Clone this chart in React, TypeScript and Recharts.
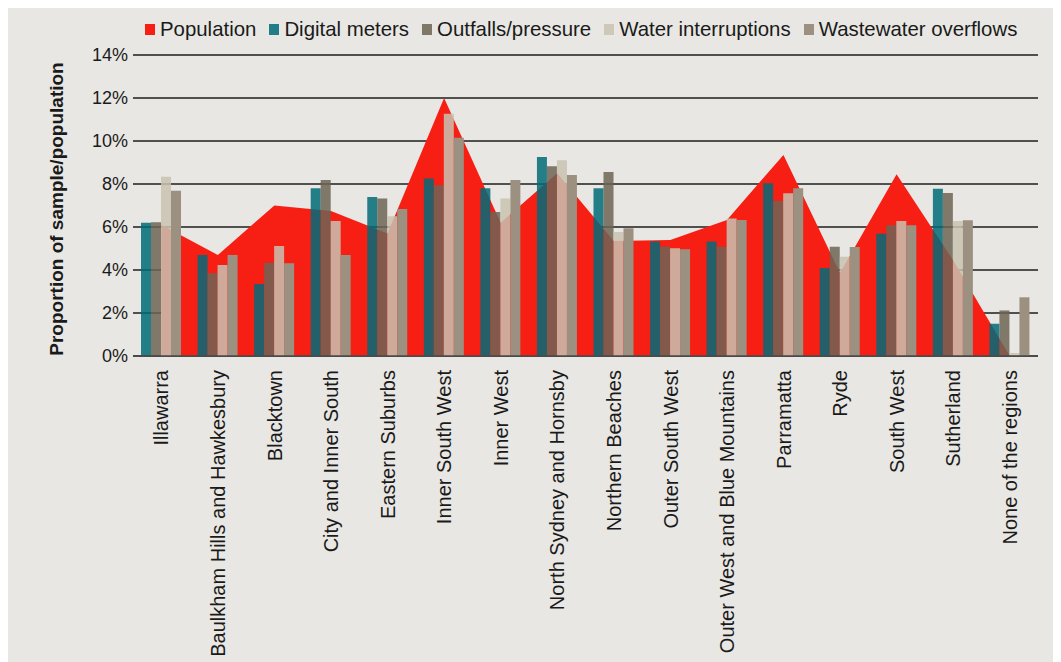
import React from 'react';
import { ComposedChart, Bar, Area, XAxis, YAxis, CartesianGrid } from 'recharts';

const regions = [
  'Illawarra',
  'Baulkham Hills and Hawkesbury',
  'Blacktown',
  'City and Inner South',
  'Eastern Suburbs',
  'Inner South West',
  'Inner West',
  'North Sydney and Hornsby',
  'Northern Beaches',
  'Outer South West',
  'Outer West and Blue Mountains',
  'Parramatta',
  'Ryde',
  'South West',
  'Sutherland',
  'None of the regions',
];

const population = [6.1, 4.7, 7.0, 6.75, 5.7, 12.0, 6.2, 8.5, 5.35, 5.4, 6.33, 9.35, 3.86, 8.45, 4.45, 0];
const digitalMeters = [6.2, 4.7, 3.35, 7.8, 7.4, 8.26, 7.8, 9.26, 7.8, 5.32, 5.32, 8.03, 4.09, 5.69, 7.78, 1.5];
const outfallsPressure = [6.22, 3.85, 4.34, 8.19, 7.33, 7.94, 6.7, 8.82, 8.56, 5.09, 5.08, 7.21, 5.08, 6.08, 7.58, 2.12];
const waterInterruptions = [8.34, 4.23, 5.12, 6.28, 6.5, 11.27, 7.32, 9.1, 5.77, 5.01, 6.4, 7.57, 4.62, 6.28, 6.28, 0.14];
const wastewaterOverflows = [7.69, 4.7, 4.31, 4.7, 6.84, 10.15, 8.19, 8.42, 5.94, 4.96, 6.33, 7.8, 5.07, 6.08, 6.31, 2.73];

const yTicks = [0, 2, 4, 6, 8, 10, 12, 14];

const data = regions.map((region, i) => ({
  region,
  population: population[i],
  digital: digitalMeters[i],
  outfalls: outfallsPressure[i],
  water: waterInterruptions[i],
  wastewater: wastewaterOverflows[i],
}));

const font = '"Liberation Sans", Arial, sans-serif';

const legendItems = [
  { label: 'Population', color: '#f71e14' },
  { label: 'Digital meters', color: '#217d88' },
  { label: 'Outfalls/pressure', color: '#7f7867' },
  { label: 'Water interruptions', color: '#cdc8b8' },
  { label: 'Wastewater overflows', color: '#9c9080' },
];

const CategoryTick = (props: any) => {
  const { x, y, payload } = props;
  return (
    <g transform={`translate(${x},${y + 14})`}>
      <text transform="rotate(-90)" x={0} y={0} dy={7.2} textAnchor="end" fontSize={20} fill="#1a1a1a" fontFamily={font}>
        {payload.value}
      </text>
    </g>
  );
};

const YLabel = () => (
  <text
    x={48}
    y={203}
    transform="rotate(-90, 48, 203)"
    textAnchor="middle"
    dominantBaseline="central"
    fontSize={19}
    fontWeight="bold"
    fill="#1a1a1a"
    fontFamily={font}
  >
    Proportion of sample/population
  </text>
);

export default function App() {
  return (
    <div style={{ position: 'relative', width: 1053, height: 656, marginTop: -2, background: '#e8e7e3', fontFamily: font }}>
      <div style={{ position: 'absolute', top: 12, left: 137, display: 'flex', alignItems: 'center', height: 22, fontSize: 20.4, color: '#1a1a1a', whiteSpace: 'nowrap' }}>
        {legendItems.map((item) => (
          <div key={item.label} style={{ display: 'flex', alignItems: 'center', marginRight: 13 }}>
            <span style={{ width: 10, height: 11, background: item.color, marginRight: 5 }} />
            <span>{item.label}</span>
          </div>
        ))}
      </div>
      <ComposedChart width={1053} height={656} data={data} margin={{ top: 49, right: 23, left: 65, bottom: 0 }} barGap={0} barSize={10}>
        <CartesianGrid vertical={false} stroke="#1e1e1e" strokeWidth={1.4} />
        <XAxis
          dataKey="region"
          interval={0}
          height={306}
          tickLine={false}
          tickSize={0}
          tickMargin={0}
          axisLine={{ stroke: '#4a4a4a', strokeWidth: 1.6 }}
          tick={<CategoryTick />}
        />
        <YAxis
          domain={[0, 14]}
          ticks={yTicks}
          tickFormatter={(v: number) => `${v}%`}
          axisLine={false}
          tickLine={false}
          tickSize={0}
          tickMargin={5}
          width={60}
          tick={{ fontSize: 18, fill: '#1a1a1a', fontFamily: font }}
          label={<YLabel />}
        />
        <Area type="linear" dataKey="population" fill="#f71e14" fillOpacity={1} stroke="none" isAnimationActive={false} />
        <Bar dataKey="digital" fill="#006b78" fillOpacity={0.85} isAnimationActive={false} />
        <Bar dataKey="outfalls" fill="#6d6453" fillOpacity={0.85} isAnimationActive={false} />
        <Bar dataKey="water" fill="#c8c2b0" fillOpacity={0.85} isAnimationActive={false} />
        <Bar dataKey="wastewater" fill="#9c9080" isAnimationActive={false} />
      </ComposedChart>
    </div>
  );
}
